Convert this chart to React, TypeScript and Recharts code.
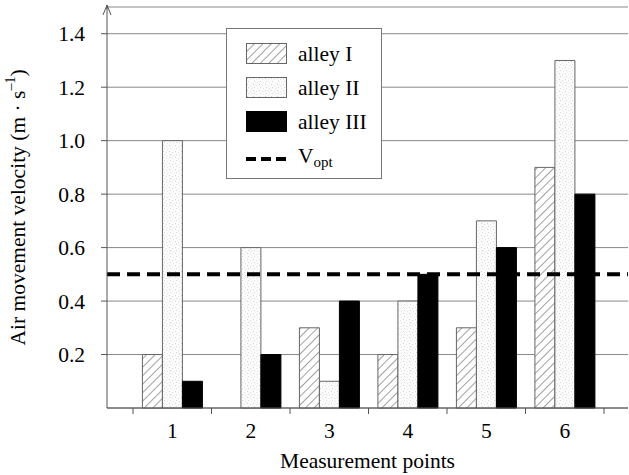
import { BarChart, Bar, XAxis, YAxis, CartesianGrid, ReferenceLine, Legend } from 'recharts';

const points = ['1', '2', '3', '4', '5', '6'];
const alleyI = [0.2, 0, 0.3, 0.2, 0.3, 0.9];
const alleyII = [1.0, 0.6, 0.1, 0.4, 0.7, 1.3];
const alleyIII = [0.1, 0.2, 0.4, 0.5, 0.6, 0.8];
const vOpt = 0.5;
const yTicks = [0.2, 0.4, 0.6, 0.8, 1.0, 1.2, 1.4];

const FONT = '"Liberation Serif", "Times New Roman", serif';
const FS = 21.5;

const data = points.map((p, i) => ({
    point: p,
    alleyI: alleyI[i],
    alleyII: alleyII[i],
    alleyIII: alleyIII[i],
}));

// x ticks: label at the centre, tick mark on the category borders
// eslint-disable-next-line @typescript-eslint/no-explicit-any
const PointTick = (props: any) => {
    const { x, y, payload, index, width } = props;
    const half = payload?.offset || (width - 50) / 12;
    return (
        <g>
            <line x1={x - half} x2={x - half} y1={y} y2={y + 6} stroke="#555" />
            {index === points.length - 1 && <line x1={x + half} x2={x + half} y1={y} y2={y + 6} stroke="#555" />}
            <text x={x} y={y + 30} textAnchor="middle" fontSize={FS} fontFamily={FONT} fill="#000">
                {payload.value}
            </text>
        </g>
    );
};

// eslint-disable-next-line @typescript-eslint/no-explicit-any
const YLabel = (props: any) => {
    const vb = props.viewBox || {};
    const cy = vb.y + vb.height / 2;
    const cx = 18;
    return (
        <text x={cx} y={cy} transform={`rotate(-90 ${cx} ${cy})`} textAnchor="middle" dominantBaseline="central"
            fontSize={FS} fontFamily={FONT} fill="#000">
            Air movement velocity (m · s<tspan dy={-8} fontSize={14}>–1</tspan><tspan dy={8}>)</tspan>
        </text>
    );
};

// eslint-disable-next-line @typescript-eslint/no-explicit-any
const AxisArrow = (props: any) => {
    const { x1, y1 } = props;
    return (
        <path d={`M${x1 - 4},${y1 + 8} L${x1},${y1 - 2} L${x1 + 4},${y1 + 8} M${x1},${y1 - 2} L${x1},${y1 + 2}`}
            stroke="#555" fill="none" strokeWidth={1} />
    );
};

const legendRows = [
    { label: 'alley I', fill: 'url(#hatch)', stroke: '#666' },
    { label: 'alley II', fill: 'url(#stipple)', stroke: '#666' },
    { label: 'alley III', fill: '#000', stroke: '#000' },
];

const LegendBox = () => (
    <div style={{
        width: 156, height: 151, border: '1px solid #777', background: '#fff',
        fontFamily: FONT, fontSize: FS, color: '#000', boxSizing: 'border-box', position: 'relative',
    }}>
        {legendRows.map((r, i) => (
            <div key={r.label} style={{ position: 'absolute', left: 19, top: 14 + i * 34, display: 'flex', alignItems: 'center' }}>
                <svg width={42} height={22}>
                    <rect x={0.5} y={0.5} width={40} height={20} fill={r.fill} stroke={r.stroke} />
                </svg>
                <span style={{ marginLeft: 10, lineHeight: '22px' }}>{r.label}</span>
            </div>
        ))}
        <div style={{ position: 'absolute', left: 19, top: 116, display: 'flex', alignItems: 'center' }}>
            <svg width={42} height={22}>
                <line x1={0} x2={41} y1={11} y2={11} stroke="#000" strokeWidth={4} strokeDasharray="10 5" />
            </svg>
            <span style={{ marginLeft: 10, lineHeight: '22px' }}>
                V<sub style={{ fontSize: 15, verticalAlign: -4 }}>opt</sub>
            </span>
        </div>
    </div>
);

export default function App() {
    return (
        <div style={{ position: 'absolute', left: 0, top: 0, width: 629, height: 475, background: '#fff', fontFamily: FONT }}>
            <BarChart width={629} height={475} data={data} margin={{ top: 7, right: 1, bottom: 7, left: 27 }}
                barCategoryGap="12%" barGap={0}>
                <defs>
                    <pattern id="hatch" patternUnits="userSpaceOnUse" width={6} height={6} patternTransform="rotate(45)">
                        <rect width={6} height={6} fill="#fff" />
                        <line x1={0} y1={0} x2={0} y2={6} stroke="#444" strokeWidth={1} />
                    </pattern>
                    <pattern id="stipple" patternUnits="userSpaceOnUse" width={6} height={6}>
                        <rect width={6} height={6} fill="#fbfbfb" />
                        <rect x={1} y={1} width={1} height={1} fill="#d4d4d4" />
                        <rect x={4} y={2} width={1} height={1} fill="#e2e2e2" />
                        <rect x={2} y={4} width={1} height={1} fill="#d8d8d8" />
                        <rect x={5} y={5} width={1} height={1} fill="#e6e6e6" />
                    </pattern>
                </defs>
                <CartesianGrid vertical={false} stroke="#888" />
                <XAxis dataKey="point" padding={{ left: 26, right: 24 }} height={60} tickSize={0} tickMargin={0}
                    tick={<PointTick />} tickLine={false} stroke="#555" interval={0}
                    label={{ value: 'Measurement points', position: 'insideBottom', offset: 0, fontSize: FS, fill: '#000', fontFamily: FONT }} />
                <YAxis domain={[0, 1.5]} ticks={yTicks} width={80} tickSize={6} tickMargin={16} stroke="#555"
                    tick={{ fontSize: FS, fill: '#000', fontFamily: FONT }} tickFormatter={(v: number) => v.toFixed(1)}
                    label={<YLabel />} />
                <Bar dataKey="alleyI" name="alley I" fill="url(#hatch)" stroke="#666" strokeWidth={1} isAnimationActive={false} />
                <Bar dataKey="alleyII" name="alley II" fill="url(#stipple)" stroke="#666" strokeWidth={1} isAnimationActive={false} />
                <Bar dataKey="alleyIII" name="alley III" fill="#000" stroke="#000" strokeWidth={1} isAnimationActive={false} />
                <ReferenceLine y={vOpt} stroke="#000" strokeWidth={4} strokeDasharray="13 7" />
                <ReferenceLine y={1.5} stroke="none" shape={<AxisArrow />} />
                <Legend layout="horizontal" verticalAlign="middle" align="center" content={<LegendBox />}
                    wrapperStyle={{ position: 'absolute', left: 226, top: 28, width: 156, height: 151 }} />
            </BarChart>
        </div>
    );
}
